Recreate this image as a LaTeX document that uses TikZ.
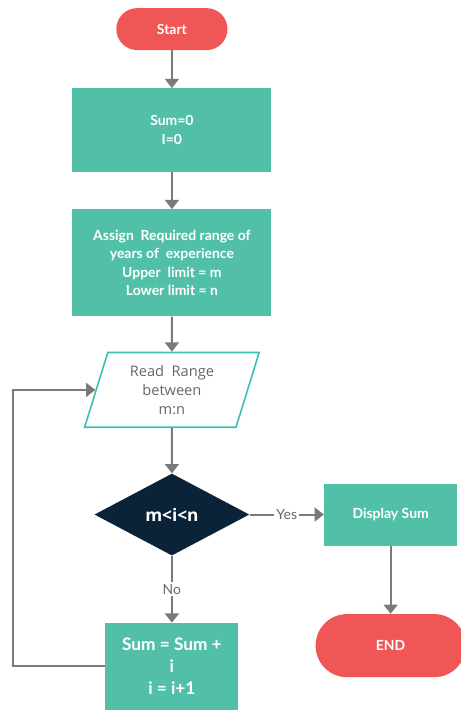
\documentclass[tikz,border=0pt]{standalone}
\usepackage{fontspec}
\setmainfont{Lato}
\newfontfamily\opensans{Open Sans}
\usetikzlibrary{shapes.geometric, arrows.meta}
\definecolor{termred}{HTML}{F05656}
\definecolor{boxteal}{HTML}{52C0A9}
\definecolor{inputteal}{HTML}{3CBFB5}
\definecolor{decnavy}{HTML}{0B2339}
\definecolor{linegray}{HTML}{7A7A7A}
\definecolor{labelgray}{HTML}{666666}
\tikzstyle{terminal} = [rectangle, rounded corners=0.55cm, minimum width=2.94cm, minimum height=1.11cm, align=center, fill=termred, text=white, font=\bfseries\fontsize{10.5}{14}\selectfont]
\tikzstyle{process} = [rectangle, minimum width=5.27cm, minimum height=2.2cm, align=center, fill=boxteal, text=white, font=\bfseries\fontsize{10.5}{14}\selectfont]
\tikzstyle{io} = [trapezium, trapezium left angle=74, trapezium right angle=106, trapezium stretches=true, minimum width=4.66cm, minimum height=1.98cm, align=center, draw=inputteal, line width=1.2pt, fill=white, text=labelgray, font=\opensans\fontsize{11}{14.5}\selectfont]
\tikzstyle{decision} = [diamond, minimum width=4.1cm, minimum height=2.17cm, inner sep=0pt, align=center, fill=decnavy, text=white, font=\opensans\bfseries\fontsize{13}{16}\selectfont]
\tikzstyle{arrow} = [line width=1.5pt, draw=linegray, ->, >={Triangle[width=10.5pt,length=7pt]}]
\tikzstyle{branch} = [fill=white, text=labelgray, inner sep=1.5pt, font=\fontsize{10.5}{13}\selectfont]

\begin{document}
\begin{tikzpicture}[node distance=3.3cm]
        \useasboundingbox (-4.55,0.77) rectangle (7.65,-18.05);
        % Nodes
        \node (start) [terminal] {Start};
        \node (init) [process, below of=start, yshift=0.63cm] {Sum=0\\I=0};
        \node (assign) [process, minimum height=2.83cm, below of=init, yshift=-0.22cm] {Assign\ \ Required range of\\years of\ \ experience\\Upper\ \ limit = m\\Lower limit = n};
        \node (read) [io, below of=assign, yshift=-0.06cm] {Read\ \ Range\\between\\m:n};
        \node (cond) [decision, below of=read] {m<i<n};
        \node (update) [process, minimum width=3.52cm, minimum height=2.3cm, font=\bfseries\fontsize{13}{16.5}\selectfont, below of=cond, yshift=-0.72cm] {Sum = Sum +\\i\\i = i+1};
        \node (display) [process, minimum width=3.52cm, minimum height=1.64cm, right of=cond, xshift=2.49cm] {Display Sum};
        \node (stop) [terminal, minimum width=3.97cm, minimum height=1.67cm, rounded corners=0.83cm, below of=display, yshift=-0.17cm] {END};

        % Arrows
        \draw [arrow] (start) -- (init);
        \draw [arrow] (init) -- (assign);
        \draw [arrow] (assign) -- (read);
        \draw [arrow] (read) -- (cond);
        \draw [arrow] (cond) -- (display) node[midway, branch] {Yes};
        \draw [arrow] (cond) -- (update) node[midway, branch] {No};
        \draw [arrow] (display) -- (stop);
        \draw [arrow] (update.west) -- ++(-2.43,0) |- (read.west);
    \end{tikzpicture}
\end{document}
